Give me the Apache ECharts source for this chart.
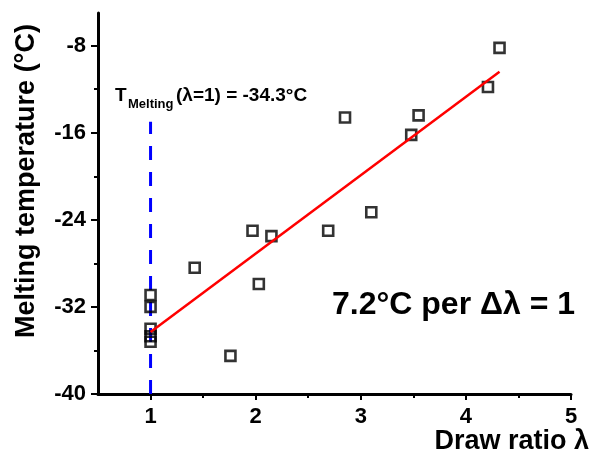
<!DOCTYPE html>
<html>
<head>
<meta charset="utf-8">
<script src="https://cdn.jsdelivr.net/npm/echarts@6/dist/echarts.min.js"></script>
<style>
html,body{margin:0;padding:0;background:#fff;}
#c{width:591px;height:457px;}
</style>
</head>
<body>
<div id="c"></div>
<script>
// ---- data ----
const drawRatio = [4.32, 4.21, 2.85, 3.55, 3.48, 3.10, 2.69, 1.97, 2.15, 1.42, 2.03, 1.76, 1.00, 1.00, 1.00, 1.00, 1.00];
const meltTemp  = [-8.2, -11.8, -14.6, -14.4, -16.2, -23.3, -25.0, -25.0, -25.5, -28.4, -29.9, -36.5, -30.9, -32.0, -34.0, -34.7, -35.2];
const fitX = [1.00, 4.32];
const fitY = [-34.3, -10.4];
const refX = [1, 1];
const refY = [-40, -15];
const xTicks = [1, 2, 3, 4, 5];
const xMinorTicks = [1.5, 2.5, 3.5, 4.5];
const yTicks = [-40, -32, -24, -16, -8];
const yMinorTicks = [-36, -28, -20, -12];
const xTitle = 'Draw ratio λ';
const yTitle = 'Melting temperature (°C)';
const slopeText = '7.2°C per Δλ = 1';
const refLabelMain = 'T';
const refLabelSub = 'Melting';
const refLabelRest = '(λ=1) = -34.3°C';

const FONT = "'Liberation Sans', Arial, sans-serif";
const chart = echarts.init(document.getElementById('c'), null, {renderer: 'canvas'});

const zip = (a, b) => a.map((v, i) => [v, b[i]]);

const option = {
  animation: false,
  backgroundColor: '#fff',
  grid: {left: 98, right: 20, top: 13, bottom: 63, containLabel: false},
  xAxis: [
    {
      type: 'value', min: 0.5, max: 5,
      axisLine: {show: true, onZero: false, lineStyle: {color: '#000', width: 3}},
      axisTick: {show: true, customValues: xTicks, inside: false, length: 6, lineStyle: {color: '#000', width: 2}},
      axisLabel: {show: true, customValues: xTicks, margin: 12, color: '#000', fontSize: 22, fontWeight: 'bold', fontFamily: FONT},
      splitLine: {show: false}
    },
    {
      type: 'value', min: 0.5, max: 5, position: 'bottom',
      axisLine: {show: false},
      axisTick: {show: true, customValues: xMinorTicks, length: 4, lineStyle: {color: '#000', width: 2}},
      axisLabel: {show: false},
      splitLine: {show: false}
    }
  ],
  yAxis: [
    {
      type: 'value', min: -40, max: -5,
      axisLine: {show: true, onZero: false, lineStyle: {color: '#000', width: 3}},
      axisTick: {show: true, customValues: yTicks, length: 7, lineStyle: {color: '#000', width: 2}},
      axisLabel: {show: true, customValues: yTicks, margin: 12, color: '#000', fontSize: 22, fontWeight: 'bold', fontFamily: FONT},
      splitLine: {show: false}
    },
    {
      type: 'value', min: -40, max: -5, position: 'left',
      axisLine: {show: false},
      axisTick: {show: true, customValues: yMinorTicks, length: 4, lineStyle: {color: '#000', width: 2}},
      axisLabel: {show: false},
      splitLine: {show: false}
    }
  ],
  series: [
    {
      type: 'line', data: zip(refX, refY), symbol: 'none', silent: true,
      lineStyle: {color: '#0000FF', width: 3, type: [14, 12]},
      z: 1
    },
    {
      type: 'scatter', data: zip(drawRatio, meltTemp), symbol: 'rect', symbolSize: 10,
      itemStyle: {color: 'rgba(0,0,0,0)', borderColor: '#000', borderWidth: 2.6},
      z: 2
    },
    {
      type: 'line', data: zip(fitX, fitY), symbol: 'none', silent: true,
      lineStyle: {color: '#FF0000', width: 2.5},
      z: 3
    }
  ],
  graphic: [
    {type: 'text', x: 27, y: 181, rotation: Math.PI / 2,
     style: {text: yTitle, font: `bold 27px ${FONT}`, fill: '#000', align: 'center', verticalAlign: 'middle'}},
    {type: 'text', x: 589, y: 442,
     style: {text: xTitle, font: `bold 27px ${FONT}`, fill: '#000', align: 'right', verticalAlign: 'middle'}},
    {type: 'text', x: 332, y: 305,
     style: {text: slopeText, font: `bold 32px ${FONT}`, fill: '#000', align: 'left', verticalAlign: 'middle'}},
    {type: 'text', x: 115, y: 96,
     style: {text: refLabelMain, font: `bold 19px ${FONT}`, fill: '#000', align: 'left', verticalAlign: 'middle'}},
    {type: 'text', x: 128, y: 104,
     style: {text: refLabelSub, font: `bold 13px ${FONT}`, fill: '#000', align: 'left', verticalAlign: 'middle'}},
    {type: 'text', x: 176, y: 96,
     style: {text: refLabelRest, font: `bold 19px ${FONT}`, fill: '#000', align: 'left', verticalAlign: 'middle'}}
  ]
};
chart.setOption(option);
</script>
</body>
</html>
